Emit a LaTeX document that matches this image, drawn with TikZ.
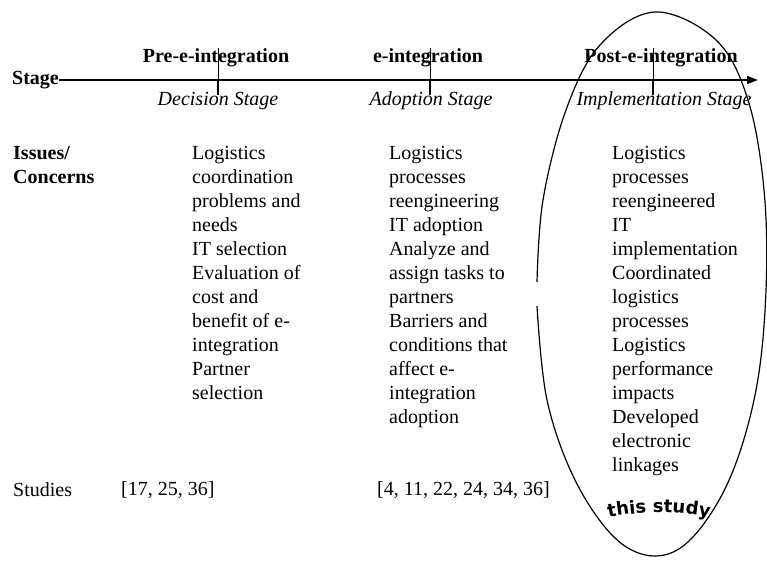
\documentclass[tikz,border=0pt]{standalone}
\usepackage{fontspec}
\setmainfont{Liberation Serif}
\newfontfamily\studyfont{DejaVu Sans}
\usetikzlibrary{arrows.meta,decorations.text}

\tikzset{
  head/.style={font=\fontsize{20}{24}\selectfont\bfseries, inner sep=0pt},
  sub/.style={font=\fontsize{20}{24}\selectfont\itshape, inner sep=0pt},
  rowlabel/.style={font=\fontsize{20}{24}\selectfont\bfseries, inner sep=0pt, anchor=north west, align=left},
  issues/.style={font=\fontsize{20}{24}\selectfont, inner sep=0pt, anchor=north west, align=left},
  axis/.style={line width=1.8pt, -{Triangle[length=11pt,width=8pt]}},
  tickthin/.style={line width=0.8pt},
  tickthick/.style={line width=1.6pt},
  oval/.style={line width=1.2pt}
}

\begin{document}
\begin{tikzpicture}[x=1pt,y=-1pt]
  \useasboundingbox (0,0) rectangle (767,560);

  % stage axis
  \node[rowlabel, anchor=west] at(12,80)(stage){Stage};
  \coordinate (axisend) at (758,80);
  \draw[axis] (stage.east) -- (axisend);

  \node[head] at(216,58)(pre){Pre-e-integration};
  \node[head] at(428,58)(during){e-integration};
  \node[head] at(661,58)(post){Post-e-integration};

  \node[sub] at(218,101)(decision){Decision Stage};
  \node[sub] at(431,101)(adoption){Adoption Stage};
  \node[sub] at(664,101)(implement){Implementation Stage};

  % ticks
  \foreach \x [count=\i] in {218,430,653}{
    \coordinate (top\i) at (\x,48);
    \coordinate (mid\i) at (\x,80);
    \coordinate (bot\i) at (\x,95);
    \draw[tickthin] (top\i) -- (mid\i);
    \draw[tickthick] (mid\i) -- (bot\i);
  }

  % issues
  \node[rowlabel] at(13,146)(concerns){Issues/\\Concerns};
  \node[issues] at(192,146)(col1){Logistics\\coordination\\problems and\\needs\\IT selection\\Evaluation of\\cost and\\benefit of e-\\integration\\Partner\\selection};
  \node[issues] at(389,146)(col2){Logistics\\processes\\reengineering\\IT adoption\\Analyze and\\assign tasks to\\partners\\Barriers and\\conditions that\\affect e-\\integration\\adoption};
  \node[issues] at(612,146)(col3){Logistics\\processes\\reengineered\\IT\\implementation\\Coordinated\\logistics\\processes\\Logistics\\performance\\impacts\\Developed\\electronic\\linkages};

  % studies
  \node[rowlabel, font=\fontsize{20}{24}\selectfont, anchor=west] at(13,490)(studies){Studies};
  \node[issues, anchor=west] at(121,490)(refs1){[17, 25, 36]};
  \node[issues, anchor=west] at(377,490)(refs2){[4, 11, 22, 24, 34, 36]};

  % this study
  \draw[oval] plot[smooth, tension=0.6] coordinates {(537,306) (547,400) (575,480) (615,538)
    (655,556) (692,538) (730,478) (756,390) (766,290) (764,190) (748,100) (716,40)
    (655,12) (600,45) (566,110) (543,200) (537,282)};
  \coordinate (arcl) at (598,520);
  \coordinate (arcr) at (720,520);
  \path[decorate, decoration={text along path, text align=center,
      text={|\studyfont\bfseries\fontsize{18}{18}\selectfont|this study}}]
    (arcl) .. controls (638,510) and (680,510) .. (arcr);

\end{tikzpicture}
\end{document}
